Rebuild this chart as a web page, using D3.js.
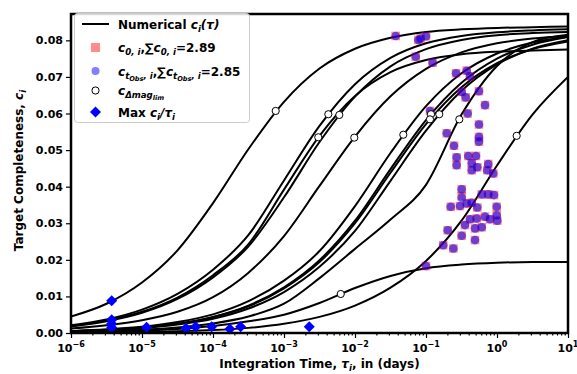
<!DOCTYPE html>
<html><head><meta charset="utf-8">
<script src="https://cdn.jsdelivr.net/npm/d3@7"></script>
<style>
body{margin:0;background:#fff;}
svg text{font-family:"DejaVu Sans",sans-serif;font-weight:bold;fill:#000;}
</style></head><body>
<svg id="chart" width="577" height="374"></svg>
<script>
// ---------------- data ----------------
const logTauGrid = [-6,-5.5,-5,-4.5,-4,-3.5,-3,-2.5,-2,-1.5,-1,-0.5,0,0.5,1];
const curveA = [0.0045,0.0080,0.0138,0.0226,0.0355,0.0503,0.0632,0.0723,0.0777,0.0807,0.0823,0.0830,0.0834,0.0836,0.0838];
const curveB = [0.0019,0.0034,0.0058,0.0097,0.0158,0.0243,0.0392,0.0539,0.0648,0.0713,0.0746,0.0762,0.0769,0.0772,0.0775];
const curveC = [0.0021,0.0037,0.0064,0.0107,0.0173,0.0268,0.0417,0.0566,0.0680,0.0752,0.0792,0.0812,0.0822,0.0827,0.0830];
const curveD = [0.0018,0.0032,0.0055,0.0093,0.0152,0.0237,0.0371,0.0522,0.0646,0.0729,0.0776,0.0801,0.0814,0.0820,0.0823];
const curveE = [0.0012,0.0021,0.0035,0.0058,0.0098,0.0165,0.0265,0.0402,0.0537,0.0647,0.0722,0.0767,0.0792,0.0805,0.0812];
const curveF = [0.0005,0.0010,0.0017,0.0030,0.0051,0.0087,0.0143,0.0224,0.0347,0.0492,0.0620,0.0710,0.0764,0.0794,0.0810];
const curveG = [0.0005,0.0008,0.0015,0.0025,0.0044,0.0075,0.0125,0.0199,0.0307,0.0448,0.0582,0.0684,0.0750,0.0788,0.0809];
const curveH = [0.0005,0.0008,0.0014,0.0025,0.0043,0.0073,0.0122,0.0194,0.0300,0.0438,0.0571,0.0672,0.0738,0.0776,0.0797];
const curveI = [0.0004,0.0007,0.0013,0.0023,0.0039,0.0067,0.0112,0.0181,0.0279,0.0416,0.0553,0.0662,0.0734,0.0777,0.0800];
const curveJ = [0.0003,0.0005,0.0009,0.0015,0.0026,0.0045,0.0080,0.0150,0.0230,0.0310,0.0405,0.0597,0.0730,0.0795,0.0815];
const curveK = [0.0001,0.00015,0.0003,0.0005,0.0008,0.0014,0.0025,0.0044,0.0075,0.0124,0.0197,0.0307,0.0458,0.0597,0.0700];
const curveL = [0.0002,0.0004,0.0007,0.0011,0.0019,0.0032,0.0050,0.0082,0.0123,0.0156,0.0177,0.0187,0.0192,0.0194,0.0194];

// c_{Δmag_lim} points
const dmagTau = [7.64e-4,3.04e-3,4.21e-3,6.01e-3,9.77e-3,0.0479,0.1175,0.1138,0.1538,0.2944,1.892,6.30e-3];
const dmagC   = [0.0607,0.0535,0.0598,0.0596,0.0534,0.0542,0.0598,0.0584,0.0598,0.0584,0.0539,0.01066];

// c_0 and c_tObs points (integration times in days)
const obsTau = [0.0374,0.0780,0.0841,0.100,0.0716,0.124,0.265,0.374,0.417,0.318,0.362,0.557,0.678,0.386,0.114,
  0.557,0.557,0.196,0.248,0.270,0.394,0.506,0.270,0.441,0.441,0.528,0.753,0.730,0.887,0.318,0.318,0.610,0.753,
  0.908,0.223,0.301,0.374,0.441,0.528,0.990,0.990,0.417,0.518,0.678,0.796,1.01,0.354,0.490,0.610,0.202,0.318,
  0.490,0.175,0.243,0.100,0.557];
const c0Vals = [0.0812,0.0801,0.0805,0.0811,0.0755,0.0739,0.0710,0.0717,0.0702,0.0659,0.0644,0.0661,0.0623,0.0600,0.0607,
  0.0570,0.0536,0.0546,0.0512,0.0480,0.0484,0.0484,0.0459,0.0464,0.0445,0.0453,0.0462,0.0445,0.0436,0.0393,0.0374,0.0379,0.0379,
  0.0377,0.0345,0.0347,0.0354,0.0356,0.0343,0.0345,0.0322,0.0311,0.0313,0.0318,0.0311,0.0307,0.0295,0.0286,0.0289,0.0281,0.0266,
  0.0254,0.0240,0.0231,0.0183,0.0523];
const cTobsVals = [0.0812,0.0801,0.0805,0.0811,0.0755,0.0739,0.0710,0.0717,0.0702,0.0659,0.0644,0.0661,0.0623,0.0600,0.0607,
  0.0570,0.0536,0.0546,0.0512,0.0480,0.0484,0.0484,0.0459,0.0464,0.0445,0.0453,0.0462,0.0445,0.0436,0.0393,0.0370,0.0379,0.0379,
  0.0377,0.0345,0.0347,0.0354,0.0356,0.0343,0.0345,0.0322,0.0311,0.0313,0.0318,0.0311,0.0307,0.0295,0.0286,0.0289,0.0281,0.0266,
  0.0254,0.0240,0.0231,0.0183,0.0523];

// Max c_i/tau_i points
const maxTau = [3.74e-6,3.74e-6,3.74e-6,3.74e-6,1.16e-5,4.17e-5,5.70e-5,9.59e-5,1.73e-4,2.45e-4,2.27e-3];
const maxC   = [0.0088,0.0036,0.0025,0.0015,0.0016,0.0013,0.0017,0.0017,0.0011,0.0017,0.0017];

// axes
const xMajorExp = [-6,-5,-4,-3,-2,-1,0,1];
const yTicks = [0,0.01,0.02,0.03,0.04,0.05,0.06,0.07,0.08];

// ---------------- drawing ----------------
const curves = [curveA,curveB,curveC,curveD,curveE,curveF,curveG,curveH,curveI,curveJ,curveK,curveL];
const svg = d3.select("#chart");
const m = {l:71, r:568, t:14, b:333};
const x = d3.scaleLog().domain([1e-6,10]).range([m.l,m.r]);
const y = d3.scaleLinear().domain([0,0.0872]).range([m.b,m.t]);

svg.append("defs").append("clipPath").attr("id","clip").append("rect")
  .attr("x",m.l).attr("y",m.t).attr("width",m.r-m.l).attr("height",m.b-m.t);
const g = svg.append("g").attr("clip-path","url(#clip)");

const line = d3.line().x((d,i)=>x(Math.pow(10,logTauGrid[i]))).y(d=>y(d)).curve(d3.curveMonotoneX);
curves.forEach(c=>g.append("path").attr("d",line(c)).attr("fill","none")
  .attr("stroke","#000").attr("stroke-width",2));

// c0 squares
g.selectAll("rect.c0").data(obsTau).enter().append("rect").attr("class","c0")
  .attr("x",(d)=>x(d)-4.3).attr("y",(d,i)=>y(c0Vals[i])-4.3).attr("width",8.6).attr("height",8.6)
  .attr("fill","rgb(255,0,0)").attr("fill-opacity",0.45);
// c_tobs circles
g.selectAll("circle.ct").data(obsTau).enter().append("circle").attr("class","ct")
  .attr("cx",d=>x(d)).attr("cy",(d,i)=>y(cTobsVals[i])).attr("r",4.3)
  .attr("fill","rgb(0,0,255)").attr("fill-opacity",0.56);
// dmag circles
g.selectAll("circle.dm").data(dmagTau).enter().append("circle").attr("class","dm")
  .attr("cx",d=>x(d)).attr("cy",(d,i)=>y(dmagC[i])).attr("r",3.6)
  .attr("fill","#fff").attr("stroke","#000").attr("stroke-width",1);
// diamonds
const dia = (cx,cy,s)=>`M${cx},${cy-s}L${cx+s},${cy}L${cx},${cy+s}L${cx-s},${cy}Z`;
svg.selectAll("path.mx").data(maxTau).enter().append("path").attr("class","mx")
  .attr("d",(d,i)=>dia(x(d),y(maxC[i]),5.5)).attr("fill","#0000ff");

// axes
const xAxis = svg.append("g").attr("transform",`translate(0,${m.b})`)
  .call(d3.axisBottom(x).tickValues(xMajorExp.map(e=>Math.pow(10,e))).tickFormat("").tickSize(5).tickSizeOuter(0));
const minors = [];
for(let e=-6;e<1;e++) for(let k=2;k<10;k++) minors.push(k*Math.pow(10,e));
const xMinor = svg.append("g").attr("transform",`translate(0,${m.b})`)
  .call(d3.axisBottom(x).tickValues(minors).tickFormat("").tickSize(2.5).tickSizeOuter(0));
[xAxis,xMinor].forEach(a=>{a.select(".domain").remove();a.selectAll("line").attr("stroke-width",1.2);});

xMajorExp.forEach(e=>{
  const t = svg.append("text").attr("x",x(Math.pow(10,e))).attr("y",352).attr("text-anchor","middle").attr("font-size",11);
  t.append("tspan").text("10");
  t.append("tspan").attr("dy",-5).attr("font-size",8).text(e<0?"\u2212"+(-e):String(e));
});

const yAxis = svg.append("g").attr("transform",`translate(${m.l},0)`)
  .call(d3.axisLeft(y).tickValues(yTicks).tickFormat(d3.format(".2f")).tickSize(5).tickSizeOuter(0));
yAxis.select(".domain").remove();
yAxis.selectAll("line").attr("stroke-width",1.2);
yAxis.selectAll("text").attr("font-size",11).attr("font-family","DejaVu Sans").attr("font-weight","bold").attr("x",-8);

// frame
svg.append("rect").attr("x",m.l).attr("y",m.t).attr("width",m.r-m.l).attr("height",m.b-m.t)
  .attr("fill","none").attr("stroke","#000").attr("stroke-width",2.5);

// rich text helper: segments [text, level(0 base,1 sub,2 subsub), italic]
function rich(t, segs, base){
  const size=[base, base*0.72, base*0.55];
  const shift=[0, base*0.28, base*0.45];
  let cur=0;
  segs.forEach(([s,lvl,it])=>{
    const sp=t.append("tspan").text(s).attr("font-size",size[lvl]).attr("dy",shift[lvl]-cur);
    if(it) sp.attr("font-style","italic");
    cur=shift[lvl];
  });
}

// axis titles
const xt = svg.append("text").attr("x",(m.l+m.r)/2).attr("y",368).attr("text-anchor","middle");
rich(xt,[["Integration Time, ",0,false],["\u03c4",0,true],["i",1,true],[", in (days)",0,false]],12);
const yt = svg.append("text").attr("transform",`translate(23,${(m.t+m.b)/2 - 3}) rotate(-90)`).attr("text-anchor","middle");
rich(yt,[["Target Completeness, ",0,false],["c",0,true],["i",1,true]],12);

// legend
const lg = svg.append("g");
lg.append("rect").attr("x",74.5).attr("y",13.5).attr("width",175).attr("height",109).attr("rx",3)
  .attr("fill","#fff").attr("fill-opacity",0.85).attr("stroke","#cccccc").attr("stroke-width",1);
const ly=[24,47.5,71,90.5,112];
lg.append("line").attr("x1",82).attr("x2",109).attr("y1",ly[0]).attr("y2",ly[0]).attr("stroke","#000").attr("stroke-width",2);
lg.append("rect").attr("x",91).attr("y",ly[1]-4.5).attr("width",9).attr("height",9).attr("fill","rgb(255,0,0)").attr("fill-opacity",0.45);
lg.append("circle").attr("cx",95.5).attr("cy",ly[2]).attr("r",4).attr("fill","rgb(0,0,255)").attr("fill-opacity",0.5);
lg.append("circle").attr("cx",95.5).attr("cy",ly[3]).attr("r",3.6).attr("fill","#fff").attr("stroke","#000").attr("stroke-width",1);
lg.append("path").attr("d",dia(95.5,ly[4],5.5)).attr("fill","#0000ff");
const lt = (i)=>lg.append("text").attr("x",118).attr("y",ly[i]+4.5);
rich(lt(0),[["Numerical ",0,false],["c",0,true],["i",1,true],["(\u03c4)",0,true]],12);
rich(lt(1),[["c",0,true],["0, i",1,true],[",\u2211",0,false],["c",0,true],["0, i",1,true],["=2.89",0,false]],12);
rich(lt(2),[["c",0,true],["t",1,true],["Obs",2,true],[", i",1,true],[",\u2211",0,false],["c",0,true],["t",1,true],["Obs",2,true],[", i",1,true],["=2.85",0,false]],12);
rich(lt(3),[["c",0,true],["\u0394mag",1,true],["lim",2,true]],12);
rich(lt(4),[["Max ",0,false],["c",0,true],["i",1,true],["/\u03c4",0,true],["i",1,true]],12);
</script>
</body></html>
